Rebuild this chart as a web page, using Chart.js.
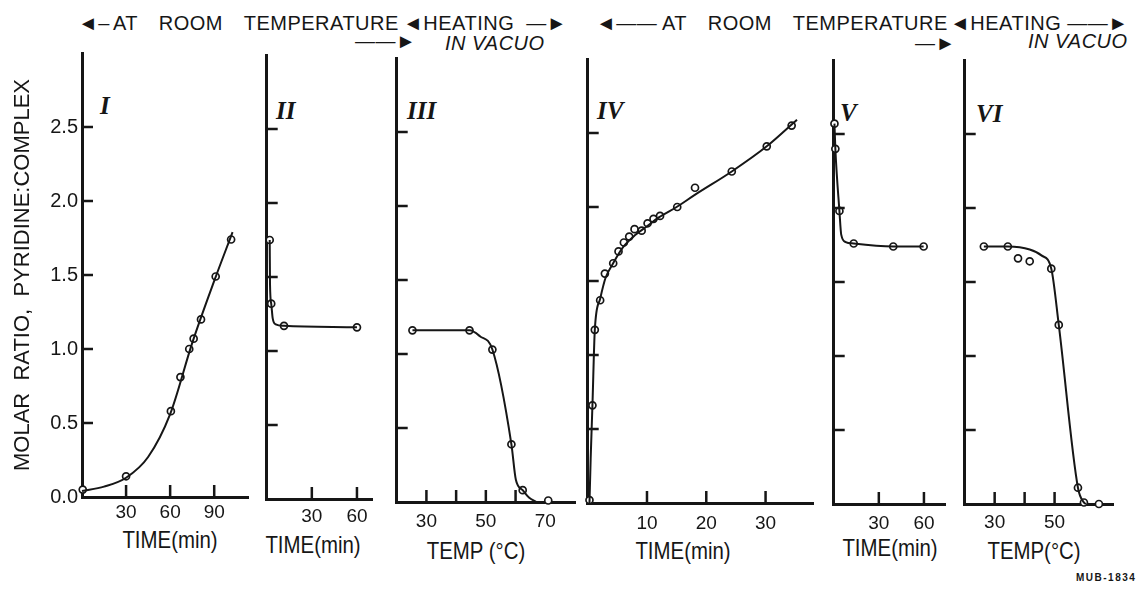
<!DOCTYPE html>
<html>
<head>
<meta charset="utf-8">
<title>Molar ratio, pyridine:complex</title>
<script src="https://cdn.jsdelivr.net/npm/chart.js@4.4.1/dist/chart.umd.min.js"></script>
<style>
  html, body { margin: 0; padding: 0; background: #fff; }
  #page { position: relative; width: 1137px; height: 594px; overflow: hidden; background: #fff; color: #161616; }
  .panel { position: absolute; }
  .note { position: absolute; font-family: "Liberation Sans", Arial, sans-serif; font-size: 20px; line-height: 1; white-space: pre; letter-spacing: 0.5px; }
  .note.words { word-spacing: 15px; }
  .note.it { font-style: italic; letter-spacing: 0.5px; }
  .num { position: absolute; font-family: "Liberation Serif", "DejaVu Serif", serif; font-style: italic; font-weight: bold; font-size: 25px; line-height: 1; }
  .xt { position: absolute; transform: translateX(-50%) scaleX(0.85); font-family: "Liberation Sans", Arial, sans-serif; font-size: 24px; line-height: 1; white-space: nowrap; }
  .code { position: absolute; left: 1076px; top: 572px; font-family: "Liberation Sans", Arial, sans-serif; font-weight: bold; font-size: 10px; letter-spacing: 1.5px; }
</style>
</head>
<body>
<div id="page">
  <div class="note" style="left:78px;top:13px">◄–</div>
  <div class="note words" style="left:113px;top:13px">AT ROOM TEMPERATURE</div>
  <div class="note" style="left:355px;top:31px">——►</div>
  <div class="note" style="left:403px;top:13px">◄HEATING  —►</div>
  <div class="note it" style="left:445px;top:33px">IN VACUO</div>
  <div class="note" style="left:596px;top:13px">◄——</div>
  <div class="note words" style="left:662px;top:13px">AT ROOM TEMPERATURE</div>
  <div class="note" style="left:915px;top:33px">—►</div>
  <div class="note" style="left:950px;top:13px">◄HEATING ——►</div>
  <div class="note it" style="left:1028px;top:31px">IN VACUO</div>

  <div class="num" style="left:100px;top:93px">I</div>
  <div class="num" style="left:276px;top:98px">II</div>
  <div class="num" style="left:407px;top:98px">III</div>
  <div class="num" style="left:597px;top:98px">IV</div>
  <div class="num" style="left:840px;top:100px">V</div>
  <div class="num" style="left:976px;top:101px">VI</div>

  <div class="xt" style="left:170px;top:528px">TIME(min)</div>
  <div class="xt" style="left:313px;top:533px">TIME(min)</div>
  <div class="xt" style="left:476px;top:539px">TEMP (°C)</div>
  <div class="xt" style="left:683px;top:539px">TIME(min)</div>
  <div class="xt" style="left:890px;top:536px">TIME(min)</div>
  <div class="xt" style="left:1034px;top:539px">TEMP(°C)</div>

  <div class="code">MUB-1834</div>
</div>

<script>
// I: uptake at room temperature
const timeI = [0.5, 30, 60.5, 67, 73, 76, 81, 91, 101.5];
const ratioI = [0.05, 0.14, 0.58, 0.81, 1.00, 1.07, 1.20, 1.49, 1.74];
const curveTimeI = [0, 15, 30, 45, 60, 75, 90, 102.5];
const curveRatioI = [0.04, 0.07, 0.13, 0.27, 0.56, 1.04, 1.46, 1.79];

// II: standing at room temperature
const timeII = [2, 3, 11.5, 60];
const ratioII = [1.75, 1.32, 1.17, 1.16];
const curveTimeII = [2, 2.2, 3, 4, 6, 11.5, 60];
const curveRatioII = [1.75, 1.45, 1.32, 1.22, 1.18, 1.17, 1.16];

// III: heating in vacuo
const tempIII = [25.3, 44.5, 52.2, 58.6, 62.4, 71];
const ratioIII = [1.16, 1.16, 1.03, 0.39, 0.08, 0.01];
const curveTempIII = [25.3, 44.5, 48, 52.2, 58.6, 60.1, 62.4, 64.5, 67];
const curveRatioIII = [1.16, 1.16, 1.12, 1.03, 0.39, 0.15, 0.08, 0.03, 0];

// IV: uptake at room temperature
const timeIV = [0.3, 0.8, 1.2, 2.1, 2.9, 4.3, 5.2, 6.1, 7.0, 7.9, 9.1, 10.1, 11.1, 12.2, 15.1, 18.1, 24.3, 30.2, 34.4];
const ratioIV = [0.02, 0.66, 1.17, 1.37, 1.55, 1.62, 1.70, 1.76, 1.80, 1.85, 1.84, 1.89, 1.92, 1.94, 2.00, 2.13, 2.24, 2.41, 2.55];
const curveTimeIV = [0.3, 0.5, 0.8, 1.2, 2.1, 3, 4.3, 6, 8, 10, 12, 15, 18, 24.3, 30.2, 35.3];
const curveRatioIV = [0.0, 0.3, 0.66, 1.17, 1.38, 1.52, 1.62, 1.73, 1.81, 1.87, 1.93, 2.0, 2.08, 2.24, 2.41, 2.59];

// V: standing at room temperature
const timeV = [0.5, 1.1, 3.8, 13.3, 39.6, 59.8];
const ratioV = [2.57, 2.40, 1.98, 1.76, 1.74, 1.74];
const curveTimeV = [0.5, 1.1, 3.8, 5, 8, 13.3, 39.6, 59.8];
const curveRatioV = [2.57, 2.40, 1.98, 1.82, 1.77, 1.76, 1.74, 1.74];

// VI: heating in vacuo
const tempVI = [26.4, 34.4, 37.8, 41.7, 48.9, 51.4, 57.8, 59.8, 64.8];
const ratioVI = [1.74, 1.74, 1.66, 1.64, 1.59, 1.21, 0.11, 0.01, 0.0];
const curveTempVI = [26.4, 34.4, 41.7, 45.6, 48.9, 51.4, 57.8, 59.8, 60.5];
const curveRatioVI = [1.74, 1.74, 1.72, 1.68, 1.59, 1.21, 0.11, 0.01, 0];

// axis labels and tick marks
const yLabels = [0, 0.5, 1, 1.5, 2, 2.5];
const yMarks = [0.5, 1, 1.5, 2, 2.5];
const xLabelsI = [30, 60, 90],   xMarksI = [30, 60, 90];
const xLabelsII = [30, 60],      xMarksII = [30, 60];
const xLabelsIII = [30, 50, 70], xMarksIII = [30, 40, 50, 60];
const xLabelsIV = [10, 20, 30],  xMarksIV = [10, 20, 30];
const xLabelsV = [30, 60],       xMarksV = [30, 60];
const xLabelsVI = [30, 50],      xMarksVI = [30, 40, 50];

const ink = '#161616';
const sans = '"Liberation Sans", Arial, sans-serif';
const plotHeight = 444;   // 0 .. 3.0

const panels = [
    { x: timeI, y: ratioI, cx: curveTimeI, cy: curveRatioI, labels: xLabelsI, marks: xMarksI,
      min: 0, max: 113, left: 82, bottom: 497, width: 166, labelPad: 4, yAxis: true },
    { x: timeII, y: ratioII, cx: curveTimeII, cy: curveRatioII, labels: xLabelsII, marks: xMarksII,
      min: 0, max: 70, left: 267, bottom: 499, width: 105, labelPad: 6 },
    { x: tempIII, y: ratioIII, cx: curveTempIII, cy: curveRatioIII, labels: xLabelsIII, marks: xMarksIII,
      min: 20, max: 80, left: 397, bottom: 502, width: 178, labelPad: 8 },
    { x: timeIV, y: ratioIV, cx: curveTimeIV, cy: curveRatioIV, labels: xLabelsIV, marks: xMarksIV,
      min: 0, max: 38, left: 588, bottom: 503, width: 225, labelPad: 9 },
    { x: timeV, y: ratioV, cx: curveTimeV, cy: curveRatioV, labels: xLabelsV, marks: xMarksV,
      min: 0, max: 74, left: 834, bottom: 504, width: 111, labelPad: 8 },
    { x: tempVI, y: ratioVI, cx: curveTempVI, cy: curveRatioVI, labels: xLabelsVI, marks: xMarksVI,
      min: 20, max: 69.5, left: 965, bottom: 504, width: 148, labelPad: 7 }
];

const pairs = (xs, ys) => xs.map((v, i) => ({ x: v, y: ys[i] }));

// short tick marks drawn on the inside of both axes
const innerTicks = {
    id: 'innerTicks',
    afterDatasetsDraw(chart, args, opts) {
        const { ctx, chartArea: a, scales } = chart;
        ctx.save();
        ctx.strokeStyle = ink;
        ctx.lineWidth = 2.5;
        ctx.beginPath();
        (opts.x || []).forEach(v => {
            const px = scales.x.getPixelForValue(v);
            ctx.moveTo(px, a.bottom);
            ctx.lineTo(px, a.bottom - 12);
        });
        (opts.y || []).forEach(v => {
            const py = scales.y.getPixelForValue(v);
            ctx.moveTo(a.left, py);
            ctx.lineTo(a.left + 11, py);
        });
        ctx.stroke();
        ctx.restore();
    }
};

function makeChart(wrap, p, w, h) {
    wrap.innerHTML = '';
    const canvas = document.createElement('canvas');
    canvas.width = w;
    canvas.height = h;
    wrap.appendChild(canvas);

    return new Chart(canvas, {
        type: 'scatter',
        data: {
            datasets: [
                {
                    data: pairs(p.cx, p.cy),
                    showLine: true,
                    cubicInterpolationMode: 'monotone',
                    borderColor: ink,
                    borderWidth: 2,
                    pointRadius: 0,
                    clip: false
                },
                {
                    data: pairs(p.x, p.y),
                    pointRadius: 3.5,
                    pointBorderWidth: 1.7,
                    pointBorderColor: ink,
                    pointBackgroundColor: '#fff',
                    clip: false
                }
            ]
        },
        options: {
            responsive: false,
            animation: false,
            events: [],
            layout: { padding: { left: p.yAxis ? 0 : 4, right: 10, top: 8, bottom: 0 } },
            plugins: {
                legend: { display: false },
                tooltip: { enabled: false },
                innerTicks: { x: p.marks, y: yMarks }
            },
            scales: {
                x: {
                    type: 'linear',
                    min: p.min,
                    max: p.max,
                    grid: { display: false, drawTicks: false },
                    border: { color: ink, width: 3 },
                    ticks: {
                        color: ink,
                        font: { family: sans, size: 19 },
                        padding: p.labelPad,
                        autoSkip: false,
                        maxRotation: 0,
                        callback: v => String(v)
                    },
                    afterBuildTicks: s => { s.ticks = p.labels.map(v => ({ value: v })); },
                    afterFit: s => { s.height = 62; }
                },
                y: {
                    min: 0,
                    max: 3,
                    grid: { display: false, drawTicks: false },
                    border: { color: ink, width: 3 },
                    ticks: {
                        display: !!p.yAxis,
                        color: ink,
                        font: { family: sans, size: 20 },
                        padding: 4,
                        callback: v => v.toFixed(1)
                    },
                    title: {
                        display: !!p.yAxis,
                        text: 'MOLAR  RATIO,  PYRIDINE:COMPLEX',
                        color: ink,
                        font: { family: sans, size: 22 },
                        padding: { top: 10, bottom: 0 }
                    },
                    afterBuildTicks: s => { s.ticks = yLabels.map(v => ({ value: v })); },
                    afterFit: s => { s.width = p.yAxis ? 82 : 0; }
                }
            }
        },
        plugins: [innerTicks]
    });
}

function drawPanel(p) {
    const wrap = document.createElement('div');
    wrap.className = 'panel';
    document.getElementById('page').appendChild(wrap);

    let w = (p.yAxis ? 82 : 4) + p.width + 10;
    let h = 8 + plotHeight + 62;
    let chart = makeChart(wrap, p, w, h);
    let area = chart.chartArea;

    // resize once if the plot area came out a little off
    const dw = p.width - (area.right - area.left);
    const dh = plotHeight - (area.bottom - area.top);
    if (Math.abs(dw) > 0.5 || Math.abs(dh) > 0.5) {
        chart.destroy();
        chart = makeChart(wrap, p, Math.round(w + dw), Math.round(h + dh));
        area = chart.chartArea;
    }

    wrap.style.left = (p.left - area.left) + 'px';
    wrap.style.top = (p.bottom - area.bottom) + 'px';
}

panels.forEach(drawPanel);
</script>
</body>
</html>
